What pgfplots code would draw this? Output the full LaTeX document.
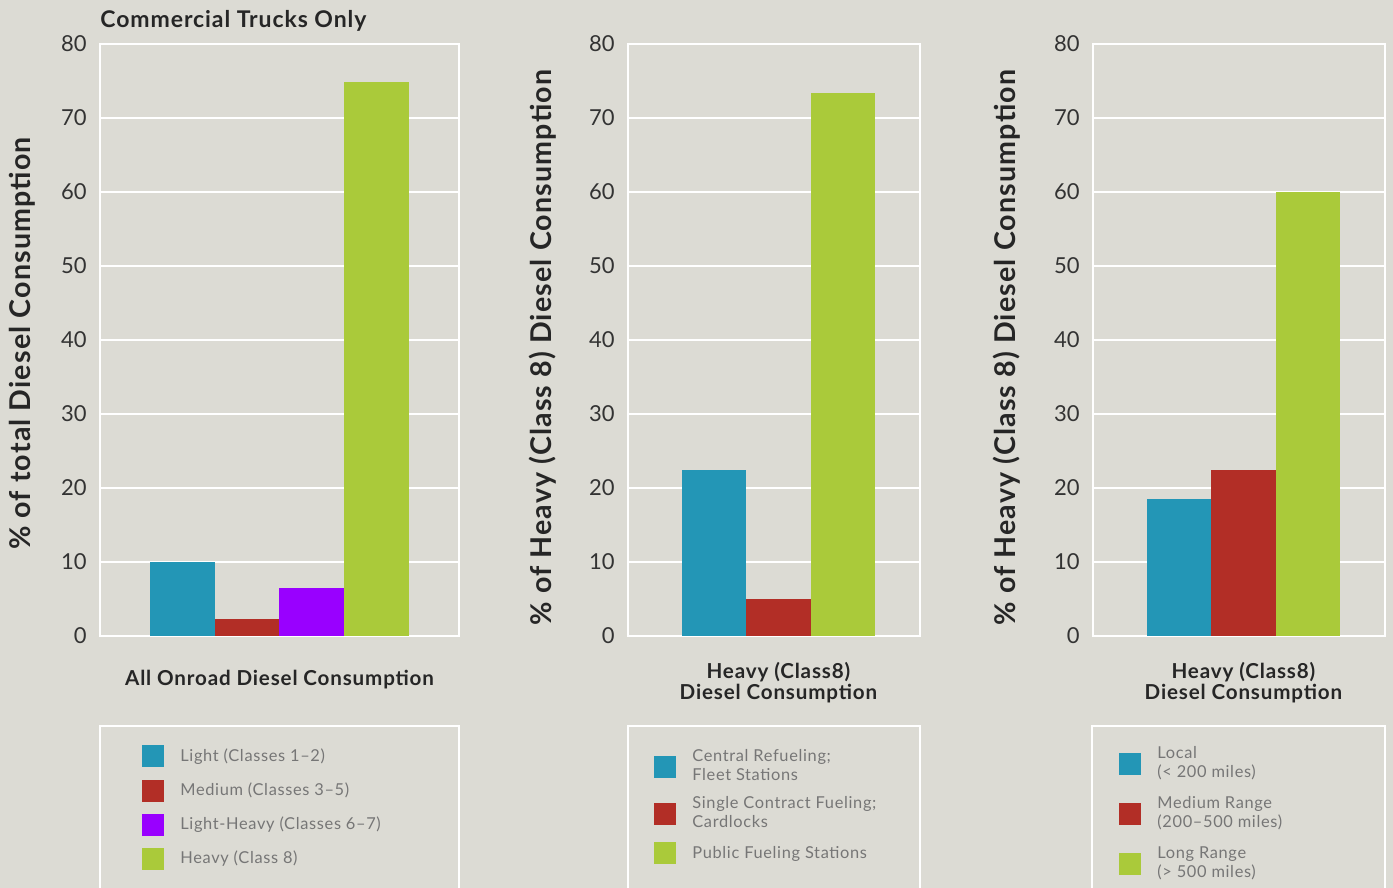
\documentclass[border=0pt]{standalone}
\usepackage{pgfplots}
\pgfplotsset{compat=1.18}
\usepackage{fontspec}
\setmainfont{Lato}
\newfontfamily\spc[LetterSpace=4]{Lato}
\definecolor{bg}{HTML}{DCDBD4}
\definecolor{cblue}{HTML}{2396B6}
\definecolor{cred}{HTML}{B22E26}
\definecolor{cpurp}{HTML}{9900FF}
\definecolor{cgreen}{HTML}{AACA3A}
\definecolor{ctick}{HTML}{333333}
\definecolor{clab}{HTML}{262626}
\definecolor{cleg}{HTML}{767676}
\newcommand\two[2]{\begin{tabular}[c]{@{}l@{}}#1\\#2\end{tabular}}
\pgfplotsset{
  panel/.style={
    scale only axis, height=296pt, ybar=0pt, bar width=32.25pt,
    ymin=0, ymax=80, ytick={0,10,...,80}, xtick=\empty,
    axis line style={white, line width=1.2pt},
    ymajorgrids, grid style={white, line width=1pt},
    major tick length=0pt,
    /pgf/number format/assume math mode=true,
    yticklabel style={font=\fontsize{11}{13}\selectfont, text=ctick, inner sep=0pt, xshift=-6.5pt},
    ylabel style={anchor=center, inner sep=0pt, font=\fontsize{14.3}{17}\selectfont\spc\bfseries, text=clab},
    xlabel style={at={(axis cs:0,0)}, anchor=north, inner sep=0pt, align=center,
      font=\fontsize{10.3}{10.5}\selectfont\spc\bfseries, text=clab},
    legend cell align=left,
    legend style={draw=none, fill=none, inner sep=0pt, anchor=north west, row sep=6.1pt, column sep=8pt,
      nodes={inner sep=0pt, text depth={}, font=\fontsize{8.2}{9.6}\selectfont\spc, text=cleg}},
    legend image code/.code={\fill[##1] (0pt,-5.5pt) rectangle (11pt,5.5pt);},
  }
}
\begin{document}
\begin{tikzpicture}
\fill[bg] (0,0) rectangle (696.5pt,444pt);
% Panel 1
\begin{axis}[panel, at={(50pt,126pt)}, anchor=south west, width=179.5pt, xmin=-1, xmax=1,
  title={Commercial Trucks Only},
  title style={at={(rel axis cs:0,1)}, anchor=base west, yshift=2pt, inner sep=0pt,
    font=\fontsize{11.5}{13}\selectfont\spc\bfseries, text=clab},
  xlabel={All Onroad Diesel Consumption}, xlabel style={yshift=-17pt},
  ylabel={\% of total Diesel Consumption},
  ylabel style={at={(rel axis cs:-0.217,0.494)}},
  legend style={at={(rel axis cs:0.117,-0.184)}}]
\addplot[fill=cblue, draw=none] coordinates {(0,10)};
\addplot[fill=cred, draw=none] coordinates {(0,2.3)};
\addplot[fill=cpurp, draw=none] coordinates {(0,6.5)};
\addplot[fill=cgreen, draw=none] coordinates {(0,74.9)};
\addlegendentry{Light (Classes 1–2)}
\addlegendentry{Medium (Classes 3–5)}
\addlegendentry{Light-Heavy (Classes 6–7)}
\addlegendentry{Heavy (Class 8)}
\end{axis}
% Panel 2
\begin{axis}[panel, at={(314pt,126pt)}, anchor=south west, width=146pt, xmin=-1.03, xmax=0.97,
  xlabel={Heavy (Class8)\\Diesel Consumption}, xlabel style={yshift=-13pt},
  ylabel={\% of Heavy (Class 8) Diesel Consumption},
  ylabel style={at={(rel axis cs:-0.291,0.487)}},
  legend style={at={(rel axis cs:0.089,-0.188)}, row sep=4.5pt}]
\addplot[fill=cblue, draw=none] coordinates {(0,22.4)};
\addplot[fill=cred, draw=none] coordinates {(0,5.0)};
\addplot[fill=cgreen, draw=none] coordinates {(0,73.4)};
\addlegendentry{\two{Central Refueling;}{Fleet Stations}}
\addlegendentry{\two{Single Contract Fueling;}{Cardlocks}}
\addlegendentry{Public Fueling Stations}
\end{axis}
% Panel 3
\begin{axis}[panel, at={(546.5pt,126pt)}, anchor=south west, width=146pt, xmin=-1.03, xmax=0.97,
  xlabel={Heavy (Class8)\\Diesel Consumption}, xlabel style={yshift=-13pt},
  ylabel={\% of Heavy (Class 8) Diesel Consumption},
  ylabel style={at={(rel axis cs:-0.295,0.487)}},
  legend style={at={(rel axis cs:0.089,-0.1835)}, row sep=5.8pt}]
\addplot[fill=cblue, draw=none] coordinates {(0,18.5)};
\addplot[fill=cred, draw=none] coordinates {(0,22.4)};
\addplot[fill=cgreen, draw=none] coordinates {(0,60)};
\addlegendentry{\two{Local}{(< 200 miles)}}
\addlegendentry{\two{Medium Range}{(200–500 miles)}}
\addlegendentry{\two{Long Range}{(> 500 miles)}}
\end{axis}
\draw[white, line width=1.2pt] (50pt,-10pt) |- (229.5pt,81pt) -- (229.5pt,-10pt);
\draw[white, line width=1.2pt] (314pt,-10pt) |- (460pt,81pt) -- (460pt,-10pt);
\draw[white, line width=1.2pt] (546pt,-10pt) |- (692.5pt,81pt) -- (692.5pt,-10pt);
\pgfresetboundingbox
\path[use as bounding box] (0,0) rectangle (696.5pt,444pt);
\end{tikzpicture}
\end{document}
